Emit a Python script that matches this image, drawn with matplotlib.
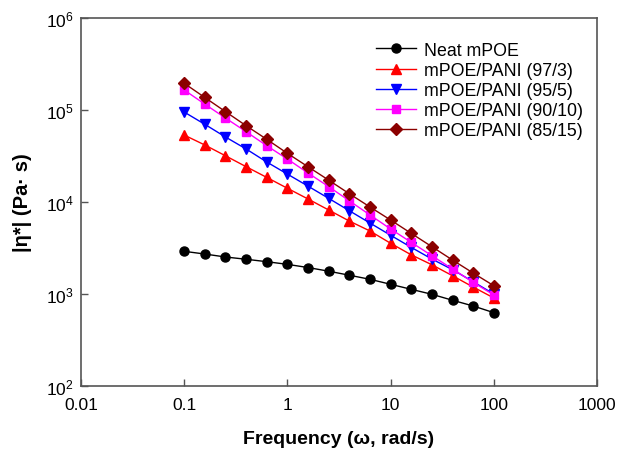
import numpy as np
import matplotlib
matplotlib.use("Agg")
import matplotlib.pyplot as plt
from matplotlib.ticker import FixedLocator, FixedFormatter, NullLocator

plt.rcParams['font.family'] = ['Liberation Sans', 'DejaVu Sans']
plt.rcParams['mathtext.fontset'] = 'custom'
plt.rcParams['mathtext.rm'] = 'Liberation Sans'
plt.rcParams['mathtext.it'] = 'Liberation Sans:italic'
plt.rcParams['mathtext.bf'] = 'Liberation Sans:bold'

freq = [0.1, 0.158, 0.251, 0.398, 0.631, 1.0, 1.58, 2.51, 3.98, 6.31,
        10.0, 15.8, 25.1, 39.8, 63.1, 100.0]

neat = [2910, 2720, 2525, 2385, 2245, 2100, 1940, 1770, 1600, 1445,
        1275, 1125, 993, 855, 741, 627]
pani_97_3 = [53400, 41700, 31800, 24200, 18500, 14100, 10800, 8190, 6210, 4840,
             3560, 2670, 2080, 1580, 1190, 906]
pani_95_5 = [95000, 70000, 50900, 37700, 27200, 20100, 14900, 10960, 8040, 5910,
             4350, 3220, 2400, 1840, 1360, 1000]
pani_90_10 = [165000, 116000, 81800, 58100, 40900, 29300, 20700, 14700, 10300, 7230,
              5090, 3650, 2610, 1870, 1340, 975]
pani_85_15 = [195000, 137000, 96000, 67500, 48000, 33800, 24200, 17300, 12300, 8830,
              6370, 4570, 3270, 2340, 1690, 1230]

labels = ["Neat mPOE", "mPOE/PANI (97/3)", "mPOE/PANI (95/5)",
          "mPOE/PANI (90/10)", "mPOE/PANI (85/15)"]

xticks = [0.01, 0.1, 1, 10, 100, 1000]
xticklabels = ["0.01", "0.1", "1", "10", "100", "1000"]
yticks = [1e2, 1e3, 1e4, 1e5, 1e6]
yticklabels = [r"$10^{2}$", r"$10^{3}$", r"$10^{4}$", r"$10^{5}$", r"$10^{6}$"]

fig = plt.figure(figsize=(6.17, 4.52), dpi=100)
ax = fig.add_axes([81/617, 1-387/452, (597-81)/617, (387-19)/452])

styles = [
    dict(color='black', marker='o', mfc='black', mec='black', ms=6.5),
    dict(color='#ff0000', marker='^', mfc='#ff0000', mec='#ff0000', ms=7),
    dict(color='#0000ff', marker='v', mfc='#0000ff', mec='#0000ff', ms=7),
    dict(color='#ff00ff', marker='s', mfc='#ff00ff', mec='#ff00ff', ms=6),
    dict(color='#8b0000', marker='D', mfc='#8b0000', mec='#8b0000', ms=6),
]
series = [neat, pani_97_3, pani_95_5, pani_90_10, pani_85_15]
for ys, lab, st in zip(series, labels, styles):
    ax.plot(freq, ys, lw=1.0, label=lab, **st)

ax.set_xscale('log')
ax.set_yscale('log')
ax.set_xlim(0.01, 1000)
ax.set_ylim(1e2, 1e6)
ax.xaxis.set_major_locator(FixedLocator(xticks))
ax.xaxis.set_major_formatter(FixedFormatter(xticklabels))
ax.yaxis.set_major_locator(FixedLocator(yticks))
ax.yaxis.set_major_formatter(FixedFormatter(yticklabels))
ax.xaxis.set_minor_locator(NullLocator())
ax.yaxis.set_minor_locator(NullLocator())
ax.tick_params(direction='in', length=5, width=1, labelsize=12.5,
               top=False, right=False, color='#555555')
ax.tick_params(axis='x', pad=8)
ax.tick_params(axis='y', pad=5)
for sp in ax.spines.values():
    sp.set_color('#555555')
    sp.set_linewidth(1.2)

ax.set_xlabel("Frequency (\u03c9, rad/s)", fontsize=14, fontweight='bold', labelpad=13)
ax.set_ylabel("|\u03b7*| (Pa\u00b7 s)", fontsize=14.5, fontweight='bold', labelpad=10)

leg = ax.legend(loc='upper left', bbox_to_anchor=(0.557, 0.955), frameon=False,
                fontsize=12.8, handlelength=2.3, labelspacing=0.18,
                handletextpad=0.45, borderaxespad=0)

fig.savefig("out.png", dpi=100)
